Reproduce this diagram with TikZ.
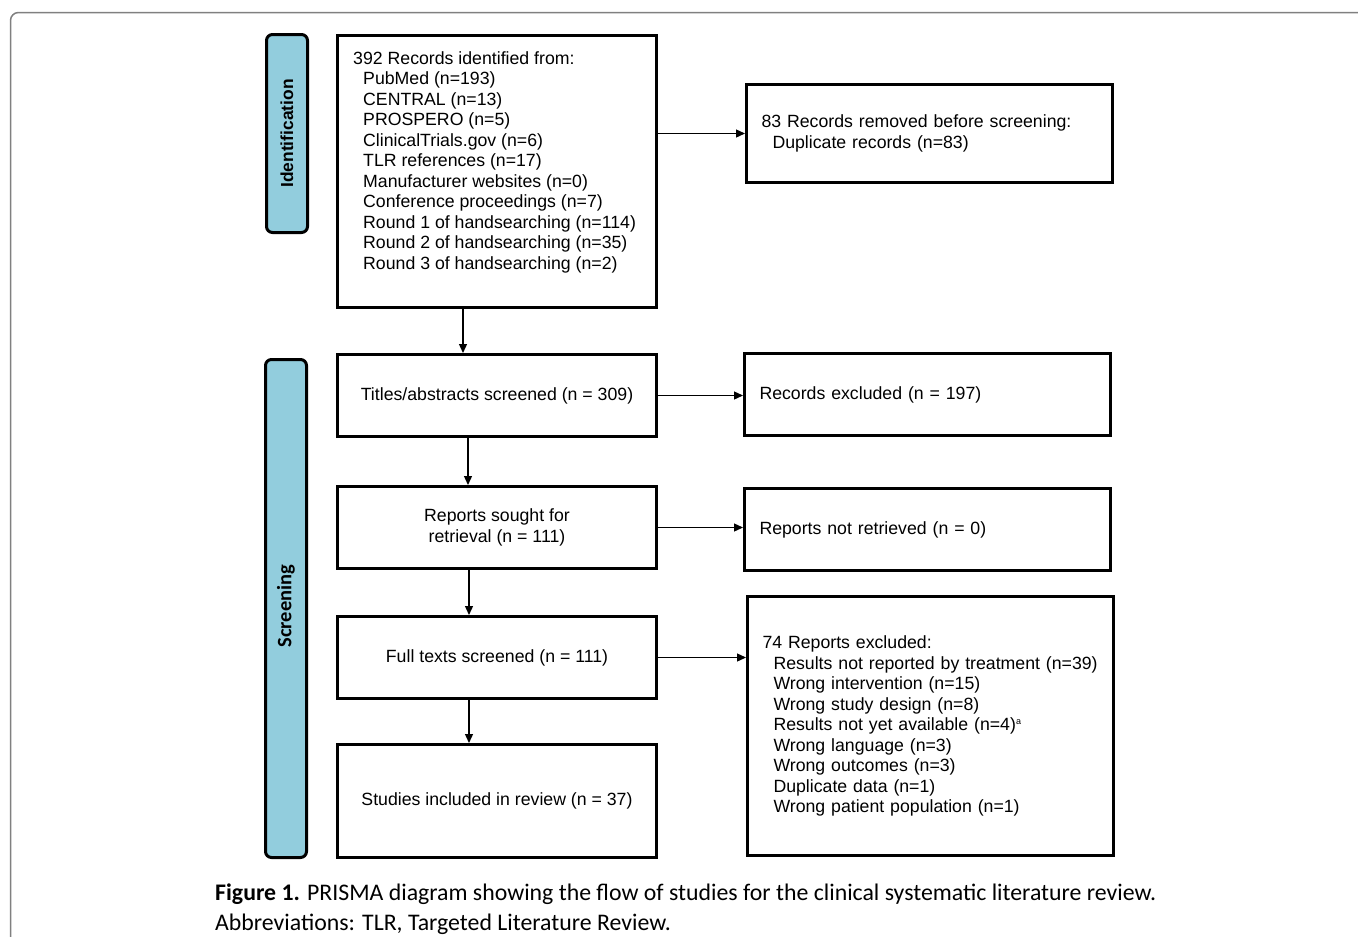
\documentclass[tikz,border=0pt]{standalone}
\usepackage{fontspec}
\setmainfont{Liberation Sans}
\newfontfamily\capfont{Carlito}
\usetikzlibrary{arrows.meta,calc}
\definecolor{sidebl}{RGB}{146,205,221}
\definecolor{framegray}{RGB}{128,128,128}
\tikzset{
  box/.style={draw=black, line width=3pt, fill=white, inner sep=0pt, anchor=north west},
  rbox/.style={box, align=left, text width=336pt, inner xsep=15pt, font=\fontsize{17.7}{20.5}\selectfont},
  cbox/.style={box, align=center, font=\fontsize{17.7}{20.5}\selectfont},
  side/.style={draw=black, line width=3pt, fill=sidebl, rounded corners=6pt, anchor=north west, minimum width=41pt, inner sep=0pt},
  arr/.style={line width=1.3pt, -{Triangle[length=9pt,width=8pt]}},
}
\begin{document}
\begin{tikzpicture}[x=1pt,y=-1pt]
\useasboundingbox (0,0) rectangle (1358,937);
\begin{scope}
\clip (0,0) rectangle (1358,937);
\draw[framegray, line width=1.5pt, rounded corners=8pt] (10.5,12.5) rectangle (1400,980);
\end{scope}
% sidebars
\node[side, minimum height=198pt] (sid) at (265,33) {};
\node[rotate=90, font=\bfseries\fontsize{17.4}{20}\selectfont] (sidt) at (sid.center) {Identification};
\node[side, minimum height=498pt] (sscr) at (264,358) {};
\node[rotate=90, font=\capfont\bfseries\fontsize{20.5}{24}\selectfont] (sscrt) at (286,606) {Screening};
% identification box
\node[box, minimum width=319pt, minimum height=272pt] (b1) at (336,34) {};
\node[anchor=north west, align=left, inner sep=0pt, font=\fontsize{17.7}{20.5}\selectfont] (b1t) at (353,51) {392 Records identified from:\\
\hspace*{10pt}PubMed (n=193)\\
\hspace*{10pt}CENTRAL (n=13)\\
\hspace*{10pt}PROSPERO (n=5)\\
\hspace*{10pt}ClinicalTrials.gov (n=6)\\
\hspace*{10pt}TLR references (n=17)\\
\hspace*{10pt}Manufacturer websites (n=0)\\
\hspace*{10pt}Conference proceedings (n=7)\\
\hspace*{10pt}Round 1 of handsearching (n=114)\\
\hspace*{10pt}Round 2 of handsearching (n=35)\\
\hspace*{10pt}Round 3 of handsearching (n=2)};
\node[rbox, minimum width=365pt, minimum height=98pt] (b2) at (745,83) {83 Records removed before screening:\\\hspace*{11pt}Duplicate records (n=83)};
% screening column
\node[cbox, minimum width=319pt, minimum height=82pt] (b3) at (336,353) {Titles/abstracts screened (n = 309)};
\node[rbox, minimum width=366pt, minimum height=82pt] (b4) at (743,352) {Records excluded (n = 197)};
\node[cbox, minimum width=319pt, minimum height=82pt] (b5) at (336,485) {Reports sought for\\retrieval (n = 111)};
\node[rbox, minimum width=366pt, minimum height=82pt] (b6) at (743,487) {Reports not retrieved (n = 0)};
\node[cbox, minimum width=319pt, minimum height=82pt] (b7) at (336,615) {Full texts screened (n = 111)};
\node[rbox, minimum width=364pt, minimum height=259pt] (b8) at (746,595) {74 Reports excluded:\\
\hspace*{11pt}\mbox{Results not reported by treatment (n=39)}\\
\hspace*{11pt}Wrong intervention (n=15)\\
\hspace*{11pt}Wrong study design (n=8)\\
\hspace*{11pt}Results not yet available (n=4)\textsuperscript{\fontsize{9}{9}\selectfont a}\\
\hspace*{11pt}Wrong language (n=3)\\
\hspace*{11pt}Wrong outcomes (n=3)\\
\hspace*{11pt}Duplicate data (n=1)\\
\hspace*{11pt}Wrong patient population (n=1)};
\node[cbox, minimum width=319pt, minimum height=113pt] (b9) at (336,743) {Studies included in review (n = 37)};
% connectors
\coordinate (x1) at (463,0);
\coordinate (x2) at (468,0);
\coordinate (x3) at (469,0);
\draw[arr] (b2.west -| b1.east) -- (b2.west);
\draw[arr] (x1 |- b1.south) -- (x1 |- b3.north);
\draw[arr] (b3.east) -- (b3.east -| b4.west);
\draw[arr] (x2 |- b3.south) -- (x2 |- b5.north);
\draw[arr] (b5.east) -- (b5.east -| b6.west);
\draw[arr] (x3 |- b5.south) -- (x3 |- b7.north);
\draw[arr] (b7.east) -- (b7.east -| b8.west);
\draw[arr] (x3 |- b7.south) -- (x3 |- b9.north);
% caption
\node[anchor=base west, inner sep=0pt, align=left, font=\capfont\fontsize{23.8}{30}\selectfont] (cap) at (215,930) {\textbf{Figure 1.} PRISMA diagram showing the flow of studies for the clinical systematic literature review.\\Abbreviations: TLR, Targeted Literature Review.};
\end{tikzpicture}
\end{document}
